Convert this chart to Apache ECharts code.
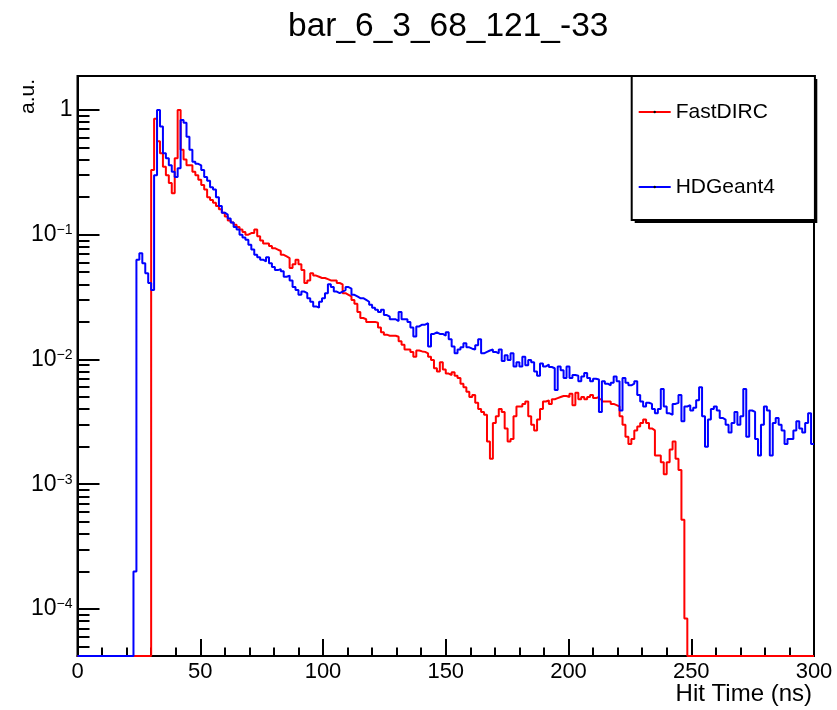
<!DOCTYPE html>
<html><head><meta charset="utf-8">
<script src="https://cdn.jsdelivr.net/npm/echarts@6/dist/echarts.min.js"></script>
<style>html,body{margin:0;padding:0;background:#fff}#c{width:837px;height:710px}</style>
</head><body><div id="c"></div>
<script>
const TITLE = 'bar_6_3_68_121_-33';
const SERIES_NAMES = ['FastDIRC', 'HDGeant4'];
const X_LABEL = 'Hit Time (ns)';
const Y_LABEL = 'a.u.';
const BIN_WIDTH = 1.2;           // ns per histogram bin
const X_MIN = 0, X_MAX = 300, X_STEP = 50;
const Y_MIN = 4.2e-5, Y_MAX = 1.87;
const Y_TICKS = [1e-4, 1e-3, 1e-2, 1e-1, 1];

// FastDIRC, bins of 1.2 ns from 0 ns
const fastDirc = [
0,0,0,0,0,0,0,0,0,0,0,0,0,0,0,0,0,0,0,0,0,0,0,0,0,
0.33,0.85,0.56,0.45,0.35,0.30,0.26,0.215,0.41,1.0,
0.48,0.40,0.36,0.36,0.32,0.30,0.275,0.25,0.23,0.20,
0.19,0.18,0.17,0.16,0.15,0.14,0.13,0.125,0.12,0.115,
0.11,0.105,0.10,0.103,0.103,0.11,0.097,0.09,0.085,0.085,
0.081,0.078,0.076,0.074,0.069,0.067,0.065,0.054,0.058,0.063,
0.058,0.052,0.041,0.043,0.049,0.047,0.046,0.045,0.045,0.044,
0.043,0.043,0.043,0.041,0.040,0.034,0.033,0.032,0.030,0.028,
0.024,0.0215,0.021,0.020,0.020,0.020,0.0197,0.018,0.0165,0.0158,
0.0155,0.0155,0.0155,0.0152,0.014,0.0131,0.012,0.012,0.0115,0.0105,
0.0118,0.0116,0.0115,0.0112,0.0105,0.0099,0.0085,0.0080,0.0095,0.0083,
0.0077,0.0075,0.0079,0.0074,0.0071,0.0064,0.0060,0.0055,0.0050,0.0052,
0.0045,0.0040,0.0038,0.0036,0.0022,0.0016,0.0031,0.0035,0.0040,0.0038,
0.0028,0.0022,0.0023,0.0035,0.0042,0.0042,0.0044,0.0046,0.0035,0.0030,
0.0027,0.0033,0.0040,0.0046,0.0047,0.0044,0.0048,0.0049,0.0050,0.0051,
0.0051,0.0050,0.0053,0.0043,0.0054,0.0048,0.0050,0.0048,0.0050,0.0052,
0.0049,0.0050,0.0048,0.0046,0.0046,0.0046,0.0044,0.0043,0.0042,0.0035,
0.0030,0.0024,0.0021,0.0023,0.0027,0.0029,0.0031,0.0033,0.0031,0.0028,
0.0027,0.0017,0.0017,0.0015,0.0012,0.0015,0.0019,0.0022,0.0016,0.0013,
0.00052,0.000084,
0,0,0,0,0,0,0,0,0,0,0,0,0,0,0,0,0,0,0,0,0,0,0,0,0,0,0,0,0,0,0,0,0,0,0,0,0,0,0,0,0,0,0
];

// HDGeant4, bins of 1.2 ns from 0 ns
const hdGeant4 = [
0,0,0,0,0,0,0,0,0,0,0,0,0,0,0,0,0,0,0,
0.0002,0.063,0.071,0.059,0.049,0.041,0.036,0.30,1.0,0.735,
0.45,0.41,0.36,0.32,0.29,0.34,0.83,0.79,0.61,0.48,
0.385,0.37,0.36,0.33,0.29,0.27,0.24,0.23,0.20,0.17,
0.15,0.145,0.135,0.125,0.115,0.11,0.10,0.095,0.091,0.083,
0.076,0.069,0.066,0.063,0.061,0.066,0.059,0.055,0.052,0.053,
0.051,0.046,0.047,0.043,0.038,0.036,0.033,0.035,0.034,0.031,
0.029,0.0266,0.026,0.029,0.031,0.034,0.040,0.038,0.035,0.034,
0.035,0.036,0.038,0.037,0.033,0.032,0.031,0.031,0.030,0.029,
0.0275,0.026,0.025,0.024,0.025,0.0227,0.022,0.021,0.021,0.0203,
0.024,0.021,0.021,0.020,0.018,0.0153,0.0184,0.019,0.019,0.0195,
0.0127,0.016,0.0165,0.016,0.016,0.0155,0.0165,0.0145,0.0127,0.0112,
0.012,0.0125,0.0135,0.0125,0.0122,0.012,0.013,0.0145,0.0112,0.0115,
0.0118,0.012,0.0115,0.0112,0.012,0.0097,0.0108,0.0099,0.0112,0.0088,
0.0095,0.0088,0.0105,0.009,0.0099,0.0095,0.0080,0.0074,0.0093,0.0088,
0.0091,0.0087,0.0085,0.0057,0.0088,0.0082,0.0071,0.0088,0.0071,0.0075,
0.0074,0.0067,0.0073,0.0078,0.0071,0.0067,0.007,0.0069,0.0038,0.0067,
0.0064,0.0062,0.0065,0.0073,0.0067,0.0039,0.0071,0.0065,0.0062,0.0064,
0.0067,0.0052,0.0046,0.0042,0.0045,0.0044,0.0040,0.0037,0.0040,0.0058,
0.0042,0.0037,0.0036,0.0044,0.0045,0.0052,0.0032,0.0042,0.0043,0.0039,
0.0041,0.0047,0.0060,0.0035,0.0020,0.0033,0.0040,0.0042,0.0039,0.0034,
0.0033,0.0030,0.0026,0.0031,0.0038,0.0030,0.0035,0.0058,0.0024,0.0039,
0.0038,0.0023,0.0017,0.0030,0.0042,0.0039,0.0017,0.0031,0.0034,0.0030,
0.0027,0.0021,0.0023,0.0023,0.0027,0.0032,0.0028,0.0026,0.0031,0.0037,0.0021
];

const FONT = '"Liberation Sans", Arial, Helvetica, sans-serif';
const lg = Math.log10;

// histogram -> step points (left bin edges), empty bins sit on the axis floor like ROOT
function histPoints(vals) {
  const pts = vals.map((v, i) => [i * BIN_WIDTH, lg(Math.max(v, Y_MIN))]);
  pts.push([X_MAX, pts[pts.length - 1][1]]);
  return pts;
}

const minorTicks = [];
for (let n = -5; n <= 0; n++) for (let k = 2; k <= 9; k++) {
  const v = k * Math.pow(10, n);
  if (v > Y_MIN && v < Y_MAX) minorTicks.push(lg(v));
}

// legend box geometry (ROOT TLegend with drop shadow)
const LEG = {x: 631.7, y: 76, w: 182.6, h: 144, shadow: 3};

const chart = echarts.init(document.getElementById('c'), null, {renderer: 'canvas'});
const black = {color: '#000', width: 2};
chart.setOption({
  animation: false,
  backgroundColor: '#fff',
  title: {
    text: TITLE, left: 288, top: 10, padding: 0,
    textStyle: {fontSize: 33.5, fontWeight: 'normal', color: '#000', fontFamily: FONT}
  },
  grid: {left: 77.5, right: 23, top: 76, bottom: 54, show: true, borderColor: '#000', borderWidth: 2, containLabel: false},
  legend: {
    orient: 'vertical', left: LEG.x, top: LEG.y, z: 5,
    padding: [25, 40, 22, 6], itemGap: 53, itemWidth: 32, itemHeight: 3,
    backgroundColor: '#fff', borderColor: '#000', borderWidth: 2,
    textStyle: {fontSize: 21, lineHeight: 22, color: '#000', fontFamily: FONT},
    data: SERIES_NAMES
  },
  xAxis: {
    type: 'value', min: X_MIN, max: X_MAX, interval: X_STEP,
    axisLine: {onZero: false, lineStyle: black},
    axisTick: {inside: true, length: 17, lineStyle: black},
    minorTick: {show: true, splitNumber: 5, length: 8.5, lineStyle: black},
    axisLabel: {margin: 5, fontSize: 22, color: '#000', fontFamily: FONT},
    splitLine: {show: false}, minorSplitLine: {show: false}
  },
  yAxis: [{
    type: 'value', min: lg(Y_MIN), max: lg(Y_MAX),
    axisLine: {show: true, onZero: false, lineStyle: black},
    axisTick: {show: true, inside: true, length: 22, lineStyle: black, customValues: Y_TICKS.map(lg)},
    axisLabel: {
      customValues: Y_TICKS.map(lg), margin: 5, color: '#000', fontFamily: FONT, fontSize: 23,
      formatter: v => { const e = Math.round(v); return e === 0 ? '{b|1}' : '{b|10}{s|\u2212' + (-e) + '}'; },
      rich: {
        b: {fontSize: 23, lineHeight: 23, color: '#000', fontFamily: FONT},
        s: {fontSize: 14, lineHeight: 14, verticalAlign: 'top', color: '#000', fontFamily: FONT}
      }
    },
    splitLine: {show: false}
  }, {
    type: 'value', min: lg(Y_MIN), max: lg(Y_MAX), position: 'left',
    axisLine: {show: false, onZero: false},
    axisTick: {show: true, inside: true, length: 12, lineStyle: black, customValues: minorTicks},
    axisLabel: {show: false},
    splitLine: {show: false}
  }],
  graphic: [
    {type: 'rect', z: 4, silent: true,
     shape: {x: LEG.x + LEG.shadow, y: LEG.y + LEG.shadow, width: LEG.w, height: LEG.h},
     style: {fill: '#000'}},
    {type: 'text', x: 28, y: 79, rotation: Math.PI / 2,
     style: {text: Y_LABEL, fontSize: 21, fontFamily: FONT, fill: '#000', align: 'right', verticalAlign: 'middle'}},
    {type: 'text', x: 812, y: 694,
     style: {text: X_LABEL, fontSize: 24, fontFamily: FONT, fill: '#000', align: 'right', verticalAlign: 'middle'}}
  ],
  series: [
    {name: SERIES_NAMES[0], type: 'line', step: 'end', data: histPoints(fastDirc),
     symbol: 'circle', symbolSize: 3, showSymbol: false, clip: true, z: 2,
     lineStyle: {color: '#ff0000', width: 2}, itemStyle: {color: '#000'}},
    {name: SERIES_NAMES[1], type: 'line', step: 'end', data: histPoints(hdGeant4),
     symbol: 'circle', symbolSize: 3, showSymbol: false, clip: true, z: 3,
     lineStyle: {color: '#0000ff', width: 2}, itemStyle: {color: '#000'}}
  ]
});
</script>
</body></html>
